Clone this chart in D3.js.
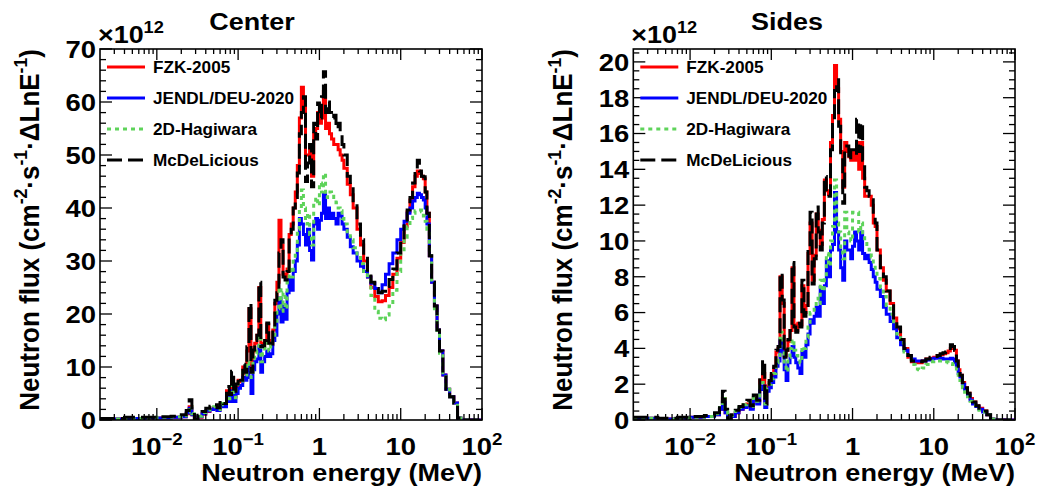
<!DOCTYPE html>
<html>
<head>
<meta charset="utf-8">
<script src="https://cdn.jsdelivr.net/npm/d3@7"></script>
<style>
  body { margin: 0; background: #fff; }
  text { font-family: "Liberation Sans", Arial, sans-serif; font-weight: bold; fill: #000; }
</style>
</head>
<body>
<svg id="chart" width="1038" height="493"></svg>
<script>
// neutron energy bin edges (MeV), shared by every spectrum
const energy = [
  0.002, 0.004, 0.007, 0.01, 0.015, 0.02, 0.023, 0.025, 0.027, 0.029,
  0.032, 0.036, 0.04, 0.045, 0.05, 0.055, 0.06, 0.066, 0.072, 0.078,
  0.083, 0.088, 0.094, 0.1, 0.107, 0.114, 0.121, 0.128, 0.136, 0.144,
  0.152, 0.16, 0.17, 0.18, 0.19, 0.2, 0.212, 0.225, 0.238, 0.252,
  0.267, 0.283, 0.3, 0.318, 0.337, 0.357, 0.378, 0.4, 0.424, 0.45,
  0.476, 0.505, 0.535, 0.567, 0.6, 0.636, 0.674, 0.714, 0.757, 0.8,
  0.85, 0.9, 0.95, 1.0, 1.06, 1.12, 1.19, 1.26, 1.33, 1.41,
  1.5, 1.6, 1.7, 1.8, 1.9, 2.0, 2.2, 2.4, 2.6, 2.9,
  3.2, 3.5, 3.9, 4.3, 4.8, 5.3, 5.9, 6.5, 7.2, 8.0,
  9, 10, 11, 12, 13, 14, 15, 16, 17, 18,
  19, 20, 21, 22.5, 24, 26, 28, 30, 33, 36,
  40, 45, 50, 55, 60, 100
];

// flux in units of 1e12 cm-2 s-1 per ln E
const centerFzk = [
  0.2, 0.3, 0.4, 0.4, 0.5, 0.6, 1.2, 2.5, 1.0, 0.0,
  0.5, 1.1, 1.6, 2.0, 2.3, 1.9, 3.0, 2.7, 5.5, 4.2,
  8.0, 4.5, 6.2, 7.5, 7.2, 10.0, 8.8, 13.0, 21.0, 9.5,
  13.0, 14.5, 16.0, 25.0, 14.5, 14.0, 15.0, 18.0, 15.0, 14.2,
  17.0, 22.0, 26.0, 37.7, 33.0, 27.5, 27.0, 28.5, 35.0, 37.0,
  40.0, 43.0, 48.0, 57.0, 62.8, 59.0, 50.0, 50.0, 52.0, 46.0,
  54.0, 55.0, 58.0, 56.0, 57.0, 62.0, 55.0, 56.0, 54.0, 53.0,
  52.0, 52.0, 51.0, 50.0, 49.0, 47.5, 44.5, 42.5, 40.0, 36.0,
  33.0, 30.0, 27.0, 25.0, 23.3, 22.3, 22.5, 23.5, 25.0, 27.5,
  30.5, 33.5, 36.5, 39.3, 41.5, 44.0, 46.0, 47.0, 46.5, 46.0,
  45.5, 43.0, 39.0, 31.0, 26.0, 21.5, 17.0, 13.0, 8.5, 5.8,
  4.4, 3.2, 0.4, 0.0, 0.0, 0.0
];
const centerJendl = [
  0.2, 0.3, 0.4, 0.4, 0.5, 0.6, 1.3, 2.2, 1.0, 0.0,
  0.6, 1.2, 1.7, 2.0, 2.1, 1.8, 2.8, 2.5, 4.5, 3.5,
  5.5, 3.5, 5.0, 6.0, 6.5, 8.0, 7.5, 10.0, 8.0, 5.0,
  9.5, 11.0, 11.5, 14.0, 9.0, 11.0, 12.0, 13.0, 12.0, 12.5,
  15.0, 16.0, 20.0, 23.0, 18.5, 21.5, 19.0, 24.0, 26.5, 24.5,
  28.0, 30.0, 33.0, 38.0, 37.0, 35.0, 33.0, 36.0, 32.0, 30.2,
  37.0, 38.0, 36.0, 37.7, 39.0, 42.8, 38.0, 40.0, 38.0, 39.0,
  38.0, 37.0, 39.0, 38.5, 37.0, 36.0, 34.5, 32.7, 31.5, 30.0,
  29.0, 28.0, 27.0, 25.8, 24.8, 24.0, 25.5, 27.5, 29.5, 31.5,
  34.0, 36.0, 37.5, 39.0, 40.0, 41.3, 42.0, 42.8, 42.5, 42.0,
  41.5, 40.0, 37.0, 31.0, 26.0, 21.5, 17.0, 13.0, 8.5, 5.8,
  4.4, 3.2, 0.4, 0.0, 0.0, 0.0
];
const centerHagiwara = [
  0.2, 0.3, 0.4, 0.5, 0.6, 0.8, 1.5, 2.6, 1.2, 0.1,
  0.7, 1.4, 1.9, 2.3, 2.5, 2.0, 3.1, 2.9, 5.0, 4.0,
  6.5, 4.2, 5.8, 7.0, 7.0, 9.0, 8.5, 11.0, 10.5, 8.0,
  11.0, 12.5, 13.0, 16.0, 11.0, 12.5, 13.5, 14.5, 13.0, 14.0,
  16.0, 18.0, 21.0, 25.0, 20.5, 24.0, 21.0, 26.0, 29.0, 27.0,
  30.5, 32.0, 36.0, 40.0, 43.4, 40.0, 37.0, 39.0, 35.0, 33.0,
  41.0, 42.0, 40.5, 44.7, 43.0, 46.5, 42.0, 43.0, 43.0, 42.5,
  42.0, 41.0, 40.0, 39.5, 38.0, 37.0, 35.5, 34.0, 32.5, 31.0,
  29.5, 28.0, 26.5, 23.5, 20.5, 19.2, 18.9, 19.8, 21.5, 24.5,
  28.0, 31.5, 34.5, 36.5, 38.0, 39.0, 39.5, 39.6, 39.6, 39.3,
  38.5, 37.5, 36.0, 31.0, 26.0, 21.0, 16.5, 12.6, 8.5, 5.8,
  4.4, 3.2, 0.4, 0.0, 0.0, 0.0
];
const centerMcDe = [
  0.3, 0.5, 0.5, 0.6, 0.7, 1.0, 1.8, 3.8, 1.6, 0.1,
  0.9, 1.6, 2.2, 2.6, 2.9, 2.3, 3.6, 3.1, 6.3, 4.8,
  9.2, 5.0, 6.8, 8.0, 7.5, 10.5, 9.0, 13.8, 22.0, 9.0,
  13.2, 15.0, 16.0, 26.0, 13.8, 14.0, 15.0, 18.3, 14.5, 13.8,
  17.0, 22.6, 24.0, 31.5, 34.0, 27.0, 26.4, 28.0, 34.5, 36.0,
  40.0, 42.0, 46.6, 54.0, 58.0, 61.0, 45.0, 48.5, 52.0, 44.0,
  56.0, 53.0, 59.8, 57.0, 61.0, 65.7, 58.0, 60.0, 58.0, 57.0,
  57.5, 55.0, 56.0, 54.0, 52.0, 50.0, 46.0, 44.0, 41.0, 37.0,
  34.0, 31.0, 27.7, 26.0, 24.8, 24.0, 24.3, 25.2, 26.5, 28.5,
  31.5, 34.0, 37.0, 39.6, 42.0, 44.7, 46.5, 49.0, 47.0, 46.0,
  45.9, 43.0, 39.0, 31.0, 26.0, 21.5, 17.0, 13.0, 8.5, 5.8,
  4.4, 3.2, 0.4, 0.0, 0.0, 0.0
];

const sidesFzk = [
  0.1, 0.05, 0.1, 0.15, 0.2, 0.3, 0.6, 1.2, 0.4, 0.0,
  0.2, 0.4, 0.6, 0.8, 0.9, 0.7, 1.2, 1.0, 2.2, 2.6,
  0.9, 1.9, 2.1, 2.5, 2.9, 3.8, 4.0, 8.0, 6.5, 3.6,
  3.9, 4.4, 5.0, 8.5, 5.3, 5.0, 5.4, 5.3, 7.5, 6.0,
  6.4, 9.3, 11.0, 7.8, 9.2, 11.5, 10.6, 9.8, 11.2, 13.4,
  12.8, 12.6, 15.5, 17.0, 19.8, 18.5, 16.8, 15.0, 13.0, 15.5,
  15.0, 14.7, 14.5, 15.0, 14.5, 15.5, 14.0, 15.5, 13.5, 12.5,
  12.5, 12.5, 12.0, 11.0, 10.8, 9.5, 8.5, 7.8, 7.2, 6.5,
  5.7, 5.1, 4.5, 4.0, 3.5, 3.25, 3.2, 3.2, 3.3, 3.4,
  3.45, 3.5, 3.6, 3.65, 3.7, 3.75, 3.85, 4.0, 4.0, 3.9,
  3.3, 2.8, 2.5, 2.1, 1.8, 1.5, 1.2, 1.0, 0.8, 0.65,
  0.5, 0.3, 0.05, 0.0, 0.0, 0.0
];
const sidesJendl = [
  0.1, 0.05, 0.1, 0.15, 0.2, 0.3, 0.6, 1.0, 0.4, 0.0,
  0.2, 0.4, 0.6, 0.7, 0.8, 0.6, 1.1, 0.9, 1.7, 1.9,
  0.7, 1.6, 1.8, 2.1, 2.4, 3.0, 3.3, 4.5, 3.8, 2.8,
  2.2, 3.2, 3.6, 4.1, 3.5, 3.2, 2.9, 2.6, 3.8, 3.5,
  4.2, 4.8, 5.6, 5.4, 5.8, 6.3, 5.8, 7.4, 6.5, 7.5,
  8.9, 8.0, 9.5, 9.8, 12.7, 10.5, 9.5, 8.5, 7.8, 10.0,
  9.5, 9.5, 9.0, 9.7, 10.5, 10.0, 9.5, 10.5, 9.3, 9.0,
  9.2, 8.8, 8.4, 8.0, 7.7, 7.3, 6.9, 6.3, 5.9, 5.5,
  5.1, 4.6, 4.2, 3.9, 3.6, 3.4, 3.3, 3.3, 3.3, 3.35,
  3.4, 3.45, 3.45, 3.45, 3.4, 3.4, 3.4, 3.45, 3.4, 3.2,
  3.0, 2.6, 2.4, 2.0, 1.7, 1.4, 1.1, 0.9, 0.75, 0.6,
  0.45, 0.3, 0.05, 0.0, 0.0, 0.0
];
const sidesHagiwara = [
  0.1, 0.05, 0.1, 0.15, 0.2, 0.35, 0.7, 1.2, 0.5, 0.0,
  0.25, 0.5, 0.7, 0.85, 1.0, 0.75, 1.25, 1.05, 1.9, 2.1,
  0.9, 1.8, 2.0, 2.3, 2.6, 3.2, 3.6, 4.9, 4.2, 3.1,
  2.7, 3.5, 4.0, 4.5, 3.9, 3.6, 3.4, 3.2, 4.1, 4.0,
  4.6, 5.2, 6.0, 6.0, 6.3, 6.8, 6.5, 7.8, 7.2, 8.0,
  9.3, 8.6, 10.0, 10.8, 13.4, 11.0, 10.5, 9.5, 9.0, 11.6,
  10.5, 10.3, 10.0, 11.6, 11.6, 11.6, 10.5, 11.0, 10.3, 10.0,
  9.8, 9.5, 9.1, 8.7, 8.3, 7.9, 7.4, 6.9, 6.4, 5.9,
  5.3, 4.8, 4.3, 3.8, 3.4, 3.1, 2.85, 2.8, 2.9, 3.1,
  3.25, 3.3, 3.3, 3.3, 3.25, 3.25, 3.2, 3.15, 3.1, 3.0,
  2.7, 2.4, 2.2, 1.8, 1.55, 1.3, 1.05, 0.85, 0.7, 0.55,
  0.45, 0.3, 0.05, 0.0, 0.0, 0.0
];
const sidesMcDe = [
  0.15, 0.1, 0.15, 0.2, 0.25, 0.4, 0.8, 1.6, 0.6, 0.0,
  0.3, 0.55, 0.75, 0.95, 1.1, 0.8, 1.4, 1.1, 2.4, 3.35,
  0.9, 2.0, 2.2, 2.6, 3.0, 3.9, 4.1, 8.2, 6.7, 3.5,
  3.9, 4.5, 5.0, 8.8, 5.2, 4.9, 5.4, 5.2, 7.8, 5.8,
  6.3, 9.5, 11.6, 7.6, 9.0, 11.9, 10.5, 9.5, 11.0, 13.6,
  12.5, 12.5, 15.1, 16.5, 18.4, 19.0, 16.4, 14.7, 12.1, 15.3,
  15.3, 14.5, 15.1, 15.1, 14.8, 16.8, 15.0, 16.6, 14.5, 13.0,
  12.8, 12.5, 12.3, 11.4, 11.0, 9.5, 8.5, 8.0, 7.2, 6.5,
  5.7, 5.2, 4.5, 4.0, 3.6, 3.3, 3.25, 3.25, 3.3, 3.4,
  3.5, 3.55, 3.6, 3.7, 3.75, 3.8, 3.9, 4.2, 4.1, 3.9,
  3.3, 2.8, 2.5, 2.1, 1.8, 1.5, 1.2, 1.0, 0.8, 0.65,
  0.5, 0.3, 0.05, 0.0, 0.0, 0.0
];

const legendNames = ['FZK-2005', 'JENDL/DEU-2020', '2D-Hagiwara', 'McDeLicious'];
const xTickValues = [0.01, 0.1, 1, 10, 100];
const centerYTicks = [0, 10, 20, 30, 40, 50, 60, 70];
const sidesYTicks = [0, 2, 4, 6, 8, 10, 12, 14, 16, 18, 20];

const styles = [
  { color: '#ff0000', dash: null },
  { color: '#0000ff', dash: null },
  { color: '#5ed35a', dash: '4,4' },
  { color: '#000000', dash: '15,6' }
];

const svg = d3.select('#chart');

// tiny helper for text with superscripts: parts = [[string, isSup], ...]
function richText(sel, parts, size) {
  let up = false;
  parts.forEach(function(p) {
    const t = sel.append('tspan').text(p[0]);
    if (p[1]) {
      t.attr('font-size', size * 0.68);
      if (!up) { t.attr('dy', -size * 0.42); up = true; }
    } else if (up) {
      t.attr('dy', size * 0.42);
      up = false;
    }
  });
}

// text placed at (x,y), a bit wider than the font (the original glyphs are stretched)
function wideText(g, x, y, size, sx, anchor) {
  return g.append('text')
    .attr('transform', 'translate(' + x + ',' + y + ') scale(' + sx + ',1)')
    .attr('text-anchor', anchor || 'start')
    .attr('font-size', size);
}

function drawPanel(cfg, idx) {
  const x0 = cfg.left, x1 = cfg.right, y0 = 49, y1 = 420;
  const x = d3.scaleLog().domain([0.002, 100]).range([x0, x1]);
  const y = d3.scaleLinear().domain([0, cfg.yMax]).range([y1, y0]);
  const g = svg.append('g');

  g.append('clipPath').attr('id', 'clip' + idx)
    .append('rect').attr('x', x0).attr('y', y0).attr('width', x1 - x0).attr('height', y1 - y0);

  const line = d3.line()
    .x(function(d) { return x(d[0]); })
    .y(function(d) { return y(d[1]); })
    .curve(d3.curveStepAfter);

  cfg.series.forEach(function(vals, i) {
    const pts = energy.map(function(e, k) { return [e, vals[k]]; });
    g.append('path')
      .attr('clip-path', 'url(#clip' + idx + ')')
      .attr('d', line(pts))
      .attr('fill', 'none')
      .attr('stroke', styles[i].color)
      .attr('stroke-width', 3)
      .attr('stroke-dasharray', styles[i].dash);
  });

  // frame
  g.append('rect').attr('x', x0).attr('y', y0).attr('width', x1 - x0).attr('height', y1 - y0)
    .attr('fill', 'none').attr('stroke', '#000').attr('stroke-width', 1.6);

  // x ticks (major + minor), bottom and top, inward
  const ticks = g.append('g').attr('stroke', '#000').attr('stroke-width', 1.3);
  const minorX = [];
  [0.001, 0.01, 0.1, 1, 10].forEach(function(dec) {
    for (let m = 2; m <= 9; m++) {
      const v = dec * m;
      if (v > 0.002 && v < 100) minorX.push(v);
    }
  });
  xTickValues.forEach(function(v) {
    ticks.append('line').attr('x1', x(v)).attr('x2', x(v)).attr('y1', y1).attr('y2', y1 - 12);
    ticks.append('line').attr('x1', x(v)).attr('x2', x(v)).attr('y1', y0).attr('y2', y0 + 11);
  });
  minorX.forEach(function(v) {
    ticks.append('line').attr('x1', x(v)).attr('x2', x(v)).attr('y1', y1).attr('y2', y1 - 6);
    ticks.append('line').attr('x1', x(v)).attr('x2', x(v)).attr('y1', y0).attr('y2', y0 + 5);
  });

  // y ticks
  d3.range(0, cfg.yMax + 1e-9, cfg.minor).forEach(function(v) {
    const isMajor = Math.abs(v / cfg.major - Math.round(v / cfg.major)) < 1e-6;
    const len = isMajor ? 12 : 6;
    ticks.append('line').attr('x1', x0).attr('x2', x0 + len).attr('y1', y(v)).attr('y2', y(v));
    ticks.append('line').attr('x1', x1).attr('x2', x1 - len).attr('y1', y(v)).attr('y2', y(v));
  });

  // y tick labels
  cfg.yTicks.forEach(function(v) {
    wideText(g, x0 - 4, y(v) + 8.8, 24.5, 1.12, 'end').text(v);
  });

  // x tick labels
  xTickValues.forEach(function(v) {
    const t = wideText(g, x(v), 455, 24.5, 1.12, 'middle');
    const p = Math.round(Math.log10(v));
    if (p === 0) t.text('1');
    else if (p === 1) t.text('10');
    else richText(t, [['10', false], [p < 0 ? '\u2212' + (-p) : String(p), true]], 24.5);
  });

  // exponent label
  richText(wideText(g, x0 - 2, 43, 24, 1.12), [['\u00d710', false], ['12', true]], 24);

  // titles
  wideText(g, cfg.titleX, 30, 24.5, 1.1, 'middle').text(cfg.title);
  wideText(g, x1, 481, 23.5, 1.15, 'end').text('Neutron energy (MeV)');
  const yt = g.append('text')
    .attr('transform', 'translate(' + (x0 - 61) + ',' + y0 + ') rotate(-90) scale(1,1.08)')
    .attr('text-anchor', 'end').attr('font-size', 26);
  richText(yt, [['Neutron flux (cm', false], ['-2', true], ['\u00b7s', false], ['-1', true],
    ['\u00b7\u0394LnE', false], ['-1', true], [')', false]], 26);

  // legend
  legendNames.forEach(function(name, i) {
    const ly = 67 + i * 31;
    g.append('line').attr('x1', x0 + 7).attr('x2', x0 + 45).attr('y1', ly).attr('y2', ly)
      .attr('stroke', styles[i].color).attr('stroke-width', 3)
      .attr('stroke-dasharray', styles[i].dash);
    wideText(g, x0 + 53, ly + 6, 16.5, 1.04).text(name);
  });
}

drawPanel({ title: 'Center', titleX: 252, left: 100, right: 482, yMax: 70, major: 10, minor: 2,
  yTicks: centerYTicks, series: [centerFzk, centerJendl, centerHagiwara, centerMcDe] }, 0);
drawPanel({ title: 'Sides', titleX: 787, left: 633.3, right: 1015, yMax: 20.72, major: 2, minor: 0.5,
  yTicks: sidesYTicks, series: [sidesFzk, sidesJendl, sidesHagiwara, sidesMcDe] }, 1);
</script>
</body>
</html>
